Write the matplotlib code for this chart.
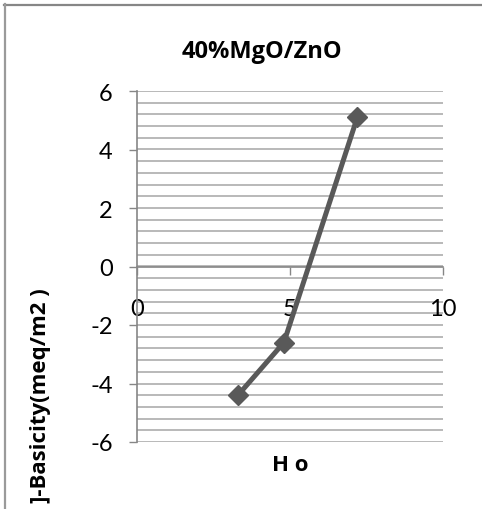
import matplotlib
matplotlib.use("Agg")
import matplotlib.pyplot as plt
from matplotlib.lines import Line2D
import numpy as np

# Hammett acidity function values and corresponding basicity
ho_values = [3.3, 4.8, 7.2]
basicity = [-4.4, -2.6, 5.1]

title = "40%MgO/ZnO"
x_label = "H o"
y_label = "]-Basicity(meq/m2 )"
x_ticks = [0, 5, 10]
y_ticks = [-6, -4, -2, 0, 2, 4, 6]

plt.rcParams["font.family"] = ["Lato", "DejaVu Sans"]
bold_font = ["Open Sans", "DejaVu Sans"]

W, H = 482, 510
fig = plt.figure(figsize=(W / 100, H / 100), dpi=100)
ax = fig.add_axes([137 / W, 1 - 443 / H, (443 - 137) / W, (443 - 92) / H])

ax.set_xlim(0, 10)
ax.set_ylim(-6, 6)

# horizontal gridlines every 0.4
for yv in np.arange(-6, 6.0001, 0.4):
    ax.axhline(yv, color="#a6a6a6", lw=1.1, zorder=0)

ax.plot(ho_values, basicity, color="#595959", lw=3.6, marker="D",
        markersize=10, markerfacecolor="#595959", markeredgecolor="#595959",
        zorder=3, solid_capstyle="round")

for s in ["top", "right"]:
    ax.spines[s].set_visible(False)
ax.spines["bottom"].set_position(("data", 0))
for s in ["left", "bottom"]:
    ax.spines[s].set_color("#868686")
    ax.spines[s].set_linewidth(1.2)

ax.set_xticks(x_ticks)
ax.set_yticks(y_ticks)
ax.set_xticklabels([str(t) for t in x_ticks])
ax.set_yticklabels([str(t) for t in y_ticks])
ax.tick_params(axis="x", direction="out", length=5.5, width=1, color="#868686",
               pad=17, labelsize=17, labelcolor="black")
ax.tick_params(axis="y", direction="out", length=5.5, width=1, color="#868686",
               pad=12, labelsize=17, labelcolor="black")

fig.text(262 / W, 1 - 52 / H, title, ha="center", va="center",
         fontsize=17, fontweight="bold", family=bold_font)
fig.text(290 / W, 1 - 466 / H, x_label, ha="center", va="center",
         fontsize=16, fontweight="bold", family=bold_font)
fig.text(41 / W, 1 - 503 / H, y_label, ha="center", va="bottom",
         rotation=90, fontsize=16, fontweight="bold", family=bold_font)

# chart frame (top and left edges)
fig.add_artist(Line2D([4 / W, 1], [1 - 5.5 / H, 1 - 5.5 / H],
                      transform=fig.transFigure, color="#868686", lw=1.6))
fig.add_artist(Line2D([4.5 / W, 4.5 / W], [0, 1 - 5 / H],
                      transform=fig.transFigure, color="#9a9a9a", lw=1.6))

fig.savefig("out.png", dpi=100)
